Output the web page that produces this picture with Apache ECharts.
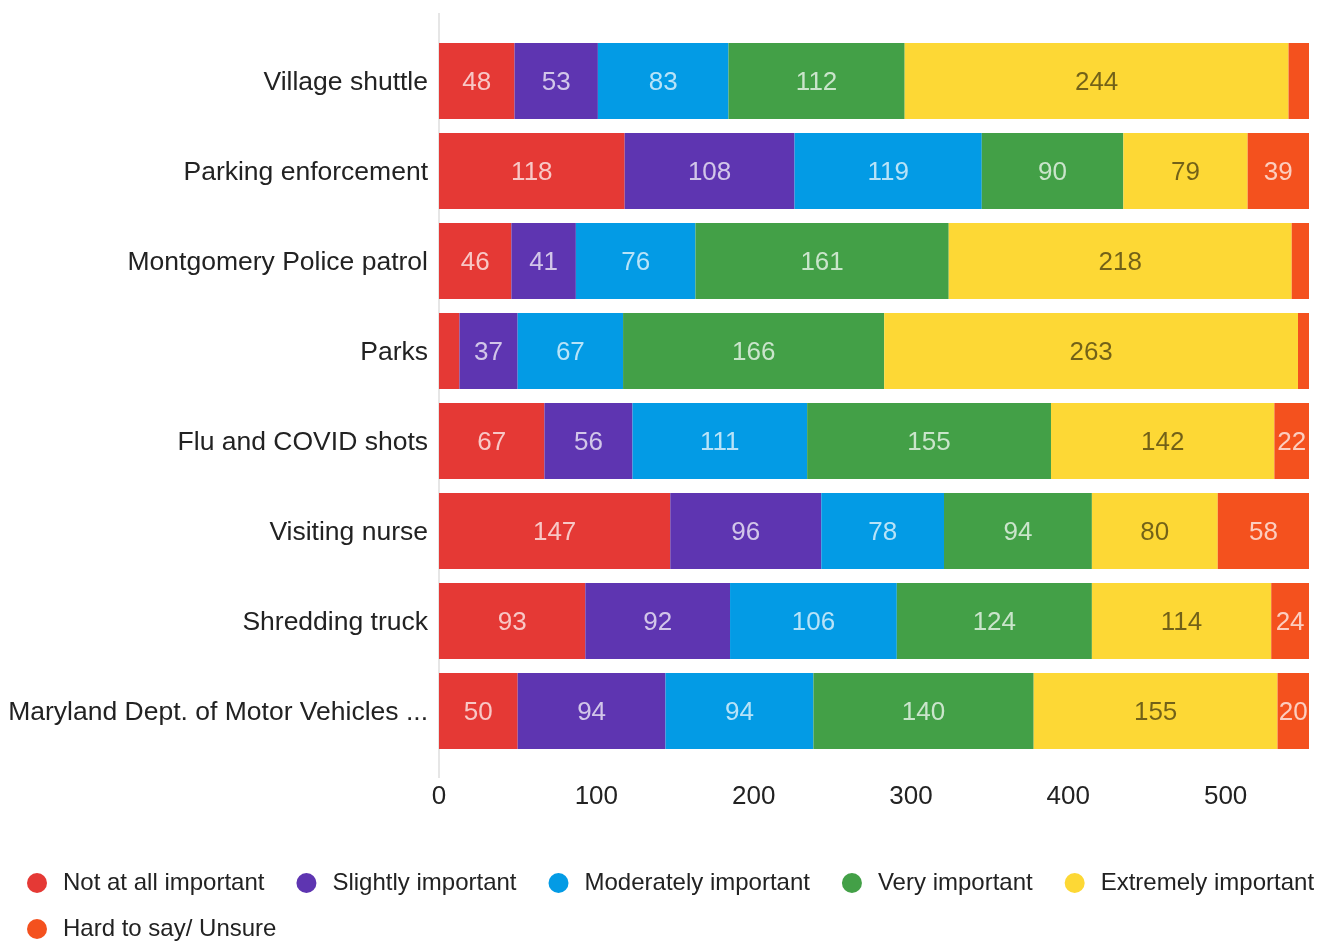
<!DOCTYPE html>
<html>
<head>
<meta charset="utf-8">
<script src="https://cdn.jsdelivr.net/npm/echarts@6/dist/echarts.min.js"></script>
<style>
  html, body { margin: 0; padding: 0; background: #fff; }
  #chart { width: 1328px; height: 943px; }
</style>
</head>
<body>
<div id="chart"></div>
<script>
const categories = [
  'Village shuttle',
  'Parking enforcement',
  'Montgomery Police patrol',
  'Parks',
  'Flu and COVID shots',
  'Visiting nurse',
  'Shredding truck',
  'Maryland Dept. of Motor Vehicles ...'
]

const seriesNames = [
  'Not at all important',
  'Slightly important',
  'Moderately important',
  'Very important',
  'Extremely important',
  'Hard to say/ Unsure'
]

const notAtAll = [48, 118, 46, 13, 67, 147, 93, 50]
const slightly = [53, 108, 41, 37, 56, 96, 92, 94]
const moderately = [83, 119, 76, 67, 111, 78, 106, 94]
const very = [112, 90, 161, 166, 155, 94, 124, 140]
const extremely = [244, 79, 218, 263, 142, 80, 114, 155]
const unsure = [13, 39, 11, 7, 22, 58, 24, 20]

const xTicks = [0, 100, 200, 300, 400, 500]

const colors = ['#E53935', '#5E35B1', '#039BE5', '#43A047', '#FDD835', '#F4511E']
const values = [notAtAll, slightly, moderately, very, extremely, unsure]

const font = 'Liberation Sans, Arial, sans-serif'

const chart = echarts.init(document.getElementById('chart'))

const series = seriesNames.map((name, i) => ({
  name,
  type: 'bar',
  stack: 'total',
  barCategoryGap: '15.5%',
  data: values[i],
  itemStyle: { color: colors[i] },
  label: {
    show: true,
    position: 'inside',
    offset: [0, 2],
    fontFamily: font,
    fontSize: 26,
    color: i === 4 ? 'rgba(0,0,0,0.55)' : 'rgba(255,255,255,0.72)',
    formatter: p => (p.value >= 15 ? p.value : '')
  },
  emphasis: { disabled: true }
}))

const legendText = {
  fontFamily: font,
  fontSize: 24,
  color: '#222',
  padding: [0, 0, 0, 11]
}

const option = {
  animation: false,
  color: colors,
  grid: {
    left: 439,
    right: 19,
    top: 36,
    height: 720
  },
  xAxis: {
    type: 'value',
    min: 0,
    max: 553,
    interval: 100,
    axisLine: { show: false },
    axisTick: { show: false },
    splitLine: { show: false },
    axisLabel: {
      showMaxLabel: false,
      margin: 28,
      fontFamily: font,
      fontSize: 26,
      color: '#222',
      formatter: v => (xTicks.includes(v) ? String(v) : '')
    }
  },
  yAxis: {
    type: 'category',
    inverse: true,
    data: categories,
    axisLine: { show: false },
    axisTick: { show: false },
    axisLabel: {
      margin: 11,
      formatter: v => '{a|' + v + '}',
      rich: {
        a: {
          fontFamily: font,
          fontSize: 26.5,
          color: '#222',
          padding: [4, 0, 0, 0]
        }
      }
    }
  },
  legend: [
    {
      left: 27,
      top: 871,
      icon: 'circle',
      itemWidth: 20,
      itemHeight: 20,
      itemGap: 32,
      padding: 0,
      textStyle: legendText,
      data: seriesNames.slice(0, 5)
    },
    {
      left: 27,
      top: 917,
      icon: 'circle',
      itemWidth: 20,
      itemHeight: 20,
      itemGap: 32,
      padding: 0,
      textStyle: legendText,
      data: seriesNames.slice(5)
    }
  ],
  graphic: [
    {
      type: 'line',
      shape: { x1: 439, y1: 13, x2: 439, y2: 778 },
      style: { stroke: '#e6e6e6', lineWidth: 2 },
      z: 0
    }
  ],
  series
}

chart.setOption(option)
</script>
</body>
</html>
